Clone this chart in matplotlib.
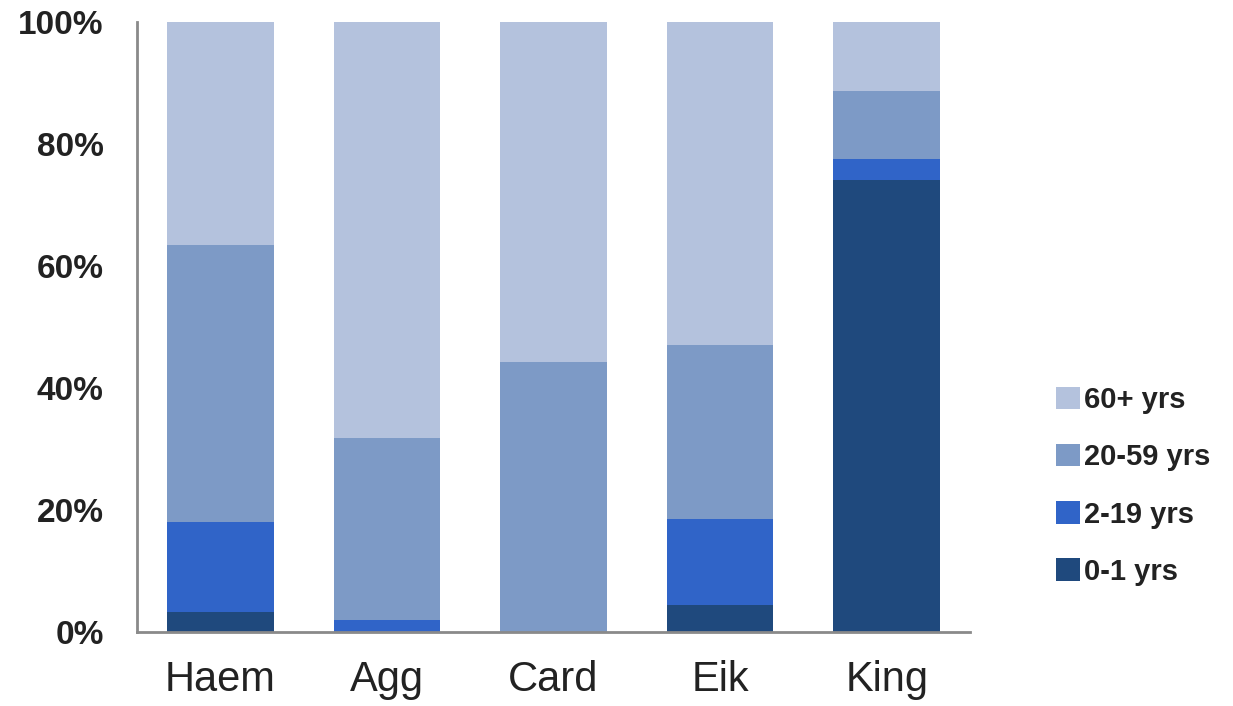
import numpy as np
import matplotlib
matplotlib.use("Agg")
import matplotlib.pyplot as plt

plt.rcParams['font.family'] = ['Liberation Sans', 'DejaVu Sans']

categories = ['Haem', 'Agg', 'Card', 'Eik', 'King']
age_groups = ['0-1 yrs', '2-19 yrs', '20-59 yrs', '60+ yrs']
share_0_1 = [3.3, 0.0, 0.0, 4.4, 74.1]
share_2_19 = [14.7, 2.0, 0.0, 14.1, 3.4]
share_20_59 = [45.4, 29.8, 44.3, 28.5, 11.2]
share_60 = [36.6, 68.2, 55.7, 53.0, 11.3]
colors = ['#1F497D', '#3064C8', '#7D9AC6', '#B4C2DD']

fig = plt.figure(figsize=(12.33, 7.06), dpi=100)
ax = fig.add_axes([137/1233, 74/706, 833/1233, 610/706])

x = np.arange(len(categories))
series = [share_0_1, share_2_19, share_20_59, share_60]
bottom = np.zeros(len(categories))
handles = []
for vals, col, lab in zip(series, colors, age_groups):
    vals = np.array(vals)
    b = ax.bar(x, vals, 0.64, bottom=bottom, color=col, label=lab)
    handles.append(b)
    bottom += vals

ax.set_xlim(-0.5, len(categories) - 0.5)
ax.set_ylim(0, 100)
ax.set_yticks([0, 20, 40, 60, 80, 100])
ax.set_yticklabels(['%d%%' % v for v in [0, 20, 40, 60, 80, 100]],
                   fontsize=24, fontweight='bold', color='#222222')
ax.set_xticks(x)
ax.set_xticklabels(categories, fontsize=30, color='#222222')
ax.tick_params(axis='y', length=0, pad=24)
ax.tick_params(axis='x', length=0, pad=20)
for s in ['top', 'right']:
    ax.spines[s].set_visible(False)
for s in ['left', 'bottom']:
    ax.spines[s].set_color('#8a8a8a')
    ax.spines[s].set_linewidth(2)

fig.legend(handles[::-1], age_groups[::-1], loc='center left',
           bbox_to_anchor=(1030/1233, 220/706), frameon=False,
           prop={'size': 21, 'weight': 'bold'}, handlelength=0.8,
           handleheight=0.8, handletextpad=0.15, labelspacing=1.0)
for t in fig.legends[0].get_texts():
    t.set_color('#222222')

fig.savefig('out.png', dpi=100)
